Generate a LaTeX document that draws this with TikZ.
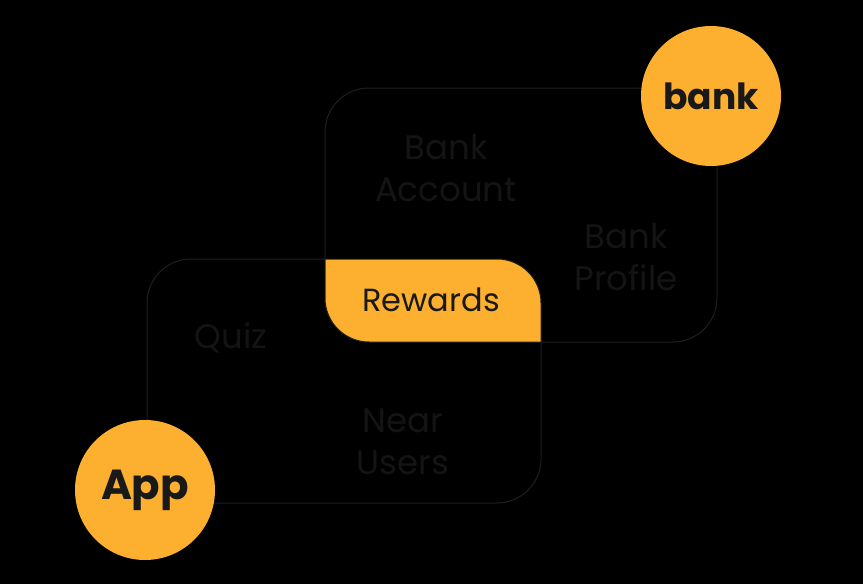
\documentclass[tikz,border=0pt]{standalone}
\usepackage{fontspec}
\setmainfont{Poppins}
\begin{document}
\begin{tikzpicture}[x=1pt,y=-1pt,
  box/.style={draw=white!12!black,line width=1pt,rounded corners=44pt},
  faint/.style={text=white!8!black,align=center,font=\fontsize{34}{42}\selectfont},
  circ/.style={circle,fill=gold,minimum size=140pt,inner sep=0pt,text=black!90}]
\definecolor{gold}{HTML}{FDB02F}
\fill[black] (0,0) rectangle (863,584);
\useasboundingbox (0,0) rectangle (863,584);
\begin{scope}
\clip[rounded corners=44pt] (325,88) rectangle (717,342);
\fill[gold,rounded corners=44pt] (147,259) rectangle (541,503);
\end{scope}
\draw[box] (325,88) rectangle (717,342);
\draw[box] (147,259) rectangle (541,503);
\node[faint] (ba) at (446,168) {Bank\\Account};
\node[faint] (bp) at (626,257) {Bank\\Profile};
\node[faint] (qz) at (231,338) {Quiz};
\node[faint] (nu) at (403,442) {Near\\Users};
\node[font=\fontsize{32}{36}\selectfont,text=black!90] (rw) at (431,300) {Rewards};
\node[circ,font=\fontsize{36}{40}\selectfont\bfseries] (bank) at (711,96) {bank};
\node[circ,font=\fontsize{42}{46}\selectfont\bfseries] (app) at (145,490) {App};
\end{tikzpicture}
\end{document}
